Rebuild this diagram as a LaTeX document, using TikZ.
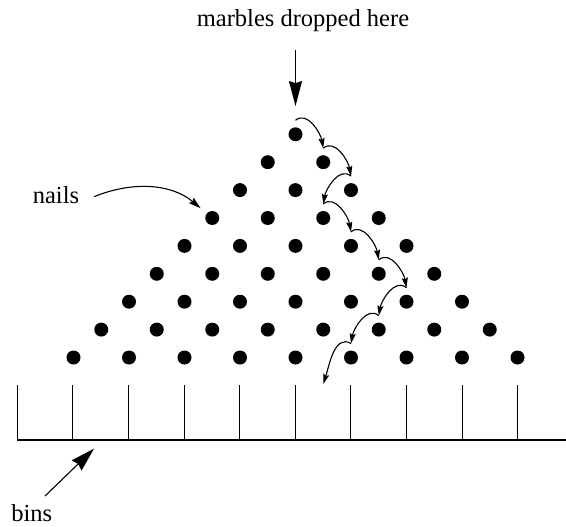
\documentclass[tikz,border=0pt]{standalone}
\usepackage{fontspec}
\setmainfont{Liberation Serif}
\newfontfamily\lblfont{Liberation Serif}
\usetikzlibrary{arrows.meta}
\begin{document}
\begin{tikzpicture}[x=1pt,y=1pt,
  nail/.style={circle, fill=black, draw=none, minimum size=14pt, inner sep=0pt},
  lbl/.style={font=\lblfont\fontsize{24.5}{29}\selectfont, inner sep=0pt, anchor=base},
  bigarrow/.style={line width=1.1pt, -{Stealth[length=25pt,width=13pt,inset=2pt]}},
  midarrow/.style={line width=1.1pt, -{Stealth[length=12pt,width=7pt,inset=1.5pt]}},
  hop/.style={line width=1.1pt, -{Stealth[length=10pt,width=6pt,inset=1.5pt]}},
  binline/.style={line width=1.1pt}]
\useasboundingbox (0,0) rectangle (566,-527);
% nails
\foreach \k in {0,...,8}{
  \foreach \m in {0,...,\k}{
    \pgfmathtruncatemacro\j{8-\k+2*\m}
    \node[nail] (n-\k-\j) at ({73.5+27.75*\j},{-(134.3+27.9*\k)}) {};
  }
}
% labels
\node[lbl] (t-marbles) at (303,-26.5) {marbles dropped here};
\node[lbl] (t-nails) at (56,-204) {nails};
\node[lbl] (t-bins) at (31.7,-521.5) {bins};
% drop arrow
\coordinate (drop) at (295.5,-50);
\draw[bigarrow, shorten >=21pt] (drop) -- (n-0-8);
% marble path points
\coordinate (p0) at ([yshift=14pt]n-0-8.center);
\coordinate (p1) at ([yshift=14pt]n-1-9.center);
\coordinate (p2) at ([yshift=14pt]n-2-10.center);
\coordinate (p3) at ([yshift=14pt]n-3-9.center);
\coordinate (p4) at ([yshift=14pt]n-4-10.center);
\coordinate (p5) at ([yshift=14pt]n-5-11.center);
\coordinate (p6) at ([yshift=14pt]n-6-12.center);
\coordinate (p7) at ([yshift=14pt]n-7-11.center);
\coordinate (p8) at ([yshift=14pt]n-8-10.center);
\coordinate (p9) at (323.25,-384);
\draw[hop] (p0) to[out=40,in=100] (p1);
\draw[hop] (p1) to[out=40,in=100] (p2);
\draw[hop] (p2) to[out=140,in=80] (p3);
\draw[hop] (p3) to[out=40,in=100] (p4);
\draw[hop] (p4) to[out=40,in=100] (p5);
\draw[hop] (p5) to[out=40,in=100] (p6);
\draw[hop] (p6) to[out=140,in=80] (p7);
\draw[hop] (p7) to[out=140,in=80] (p8);
\draw[hop] (p8) to[out=150,in=72] (p9);
% nails arrow
\coordinate (nails-from) at (94,-196.7);
\draw[midarrow, shorten >=8pt] (nails-from) to[out=22,in=140] (n-3-5);
% bins
\foreach \i in {0,...,9}{
  \coordinate (bt-\i) at ({17.3+55.6*\i},-385);
  \coordinate (bb-\i) at ({17.3+55.6*\i},-440);
  \draw[binline] (bt-\i) -- (bb-\i);
}
\coordinate (base-end) at (566,-440);
\draw[binline] (bb-0) -- (base-end);
% bins arrow
\coordinate (bins-from) at (45,-496);
\coordinate (bins-to) at (94,-448.7);
\draw[bigarrow, -{Stealth[length=24pt,width=14pt,inset=2pt]}] (bins-from) -- (bins-to);
\end{tikzpicture}
\end{document}
